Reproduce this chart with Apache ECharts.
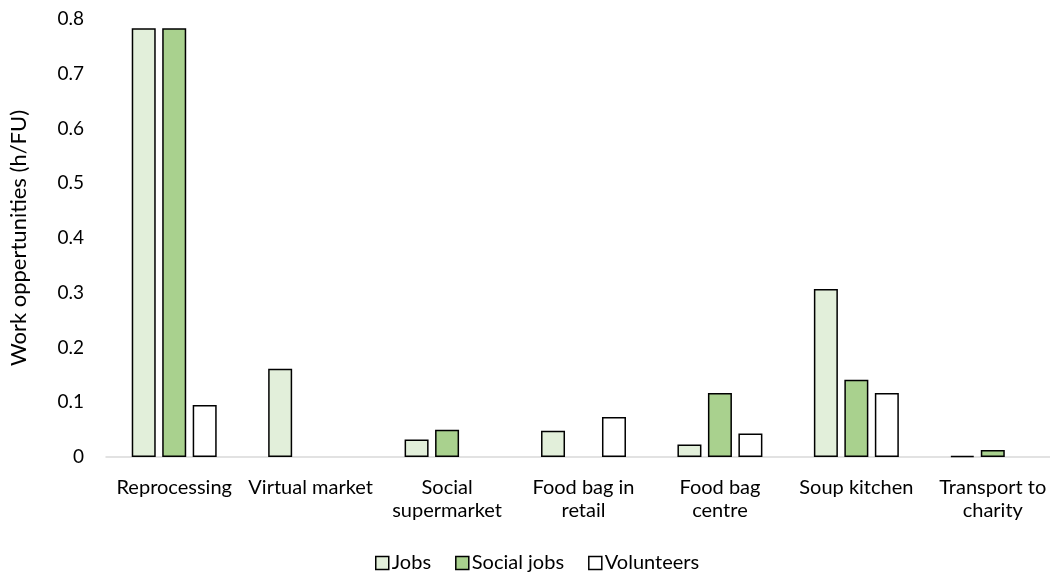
<!DOCTYPE html>
<html>
<head>
<meta charset="utf-8">
<script src="https://cdn.jsdelivr.net/npm/echarts@6/dist/echarts.min.js"></script>
<style>html,body{margin:0;padding:0;background:#fff;}#c{width:1050px;height:575px;}</style>
</head>
<body>
<div id="c"></div>
<script>
const categories = ['Reprocessing', 'Virtual market', 'Social\nsupermarket', 'Food bag in\nretail', 'Food bag\ncentre', 'Soup kitchen', 'Transport to\ncharity'];
const jobs = [0.783, 0.161, 0.032, 0.048, 0.023, 0.307, 0.002];
const socialJobs = [0.783, '-', 0.050, '-', 0.117, 0.141, 0.013];
const volunteers = [0.095, '-', '-', 0.073, 0.043, 0.117, '-'];
const yTicks = { min: 0, max: 0.8, interval: 0.1 };

const FONT = 'Lato, "Open Sans", sans-serif';
const chart = echarts.init(document.getElementById('c'));
const barStyle = (c) => ({ color: c, borderColor: '#000', borderWidth: 1.5 });
chart.setOption({
  animation: false,
  textStyle: { fontFamily: FONT },
  grid: { left: 106, width: 955, top: 19, bottom: 118, containLabel: false, outerBoundsMode: 'none' },
  legend: {
    top: 553, left: 375, padding: 0, itemWidth: 13, itemHeight: 13, itemGap: 24,
    icon: 'rect',
    textStyle: { fontFamily: FONT, fontSize: 20, color: '#000', padding: [0, 0, 0, -2] },
    data: [
      { name: 'Jobs', itemStyle: barStyle('#E2EFDA') },
      { name: 'Social jobs', itemStyle: barStyle('#A9D18E') },
      { name: 'Volunteers', itemStyle: barStyle('#FFFFFF') }
    ]
  },
  xAxis: {
    type: 'category', data: categories,
    axisLine: { lineStyle: { color: '#D9D9D9', width: 1.5 } },
    axisTick: { show: false },
    axisLabel: { interval: 0, fontFamily: FONT, fontSize: 20, color: '#000', margin: 19, lineHeight: 23 }
  },
  yAxis: {
    type: 'value', min: yTicks.min, max: yTicks.max, interval: yTicks.interval,
    name: 'Work oppertunities (h/FU)', nameLocation: 'middle', nameGap: 76, nameRotate: 90,
    nameTextStyle: { fontFamily: FONT, fontSize: 22, color: '#000' },
    axisLine: { show: false }, axisTick: { show: false }, splitLine: { show: false },
    axisLabel: { fontFamily: FONT, fontSize: 19, color: '#000', margin: 22 }
  },
  series: [
    { name: 'Jobs', type: 'bar', data: jobs, barWidth: 24, barGap: '27%', itemStyle: barStyle('#E2EFDA') },
    { name: 'Social jobs', type: 'bar', data: socialJobs, barWidth: 24, barGap: '27%', itemStyle: barStyle('#A9D18E') },
    { name: 'Volunteers', type: 'bar', data: volunteers, barWidth: 24, barGap: '27%', itemStyle: barStyle('#FFFFFF') }
  ]
});
</script>
</body>
</html>
